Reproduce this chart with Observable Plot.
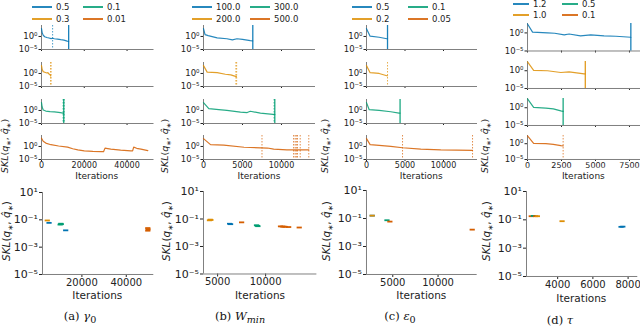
<!DOCTYPE html>
<html><head><meta charset="utf-8">
<script src="https://cdn.jsdelivr.net/npm/d3@7"></script>
<script src="https://cdn.jsdelivr.net/npm/@observablehq/plot@0.6"></script>
<style>
html,body{margin:0;padding:0;background:#fff;}
#fig{position:relative;width:640px;height:333px;overflow:hidden;font-family:"DejaVu Sans",sans-serif;color:#222;}
#fig svg{position:absolute;overflow:visible;}
#fig svg.bot [aria-label^="y-axis"] text{font-size:11px;}
#fig svg.top [aria-label^="y-axis"] text{font-size:8.5px;}
.lbl{position:absolute;white-space:nowrap;line-height:1;}
</style></head><body><div id="fig"></div>
<script>
// ---------------- DATA ----------------
// (a) gamma_0
const gammaLabels = ["0.5","0.3","0.1","0.01"];
const gamma05 = [[0,1000],[300,30],[800,3],[1500,0.8],[2500,0.4],[3500,0.25],[4500,0.15],[5200,0.2],[6000,0.13],[7500,0.1],[9000,0.06],[10500,0.04],[12000,0.016],[12700,0.012]];
const gamma03 = [[0,1000],[300,40],[800,5],[1500,3],[2500,1.5],[3000,2],[3500,0.6],[4000,0.3],[4300,0.1]];
const gamma01 = [[0,1000],[300,20],[800,1.5],[2000,0.6],[4000,0.35],[6000,0.3],[8000,0.2],[9500,0.12],[10400,0.08]];
const gamma001 = [[0,1500],[800,100],[2000,20],[4400,4.7],[8000,1.5],[12200,0.57],[14600,0.13],[17000,0.05],[20000,0.02],[24000,0.012],[27800,0.01],[29000,0.01],[29700,0.23],[31000,0.15],[32400,0.1],[37000,0.04],[41800,0.02],[42600,0.02],[43100,0.57],[44500,0.2],[46500,0.1],[49700,0.025]];
const gammaEnds = [[12700],[],[10400],[]];
const gammaRuns = [[5200],[4300,4450],[10100,10600],[]];
const gammaFinal = [[4400,0.09,1],[5200,0.06,0],[10200,0.045,2],[10500,0.052,2],[10700,0.048,2],[12700,0.017,0],[49700,0.016,3],[49800,0.02,3],[49700,0.025,3]];
const gammaTicks = [0,20000,40000];
const gammaFinalTicks = [20000,40000];

// (b) W_min
const wminLabels = ["100.0","200.0","300.0","500.0"];
const wmin100 = [[0,1000],[200,5],[600,2],[1750,0.3],[3000,0.13],[3700,0.05],[4300,0.13],[5000,0.08],[6000,0.025],[6300,0.02]];
const wmin200 = [[0,1000],[470,3.2],[1750,2],[2800,0.5],[3500,0.3],[4100,0.08],[4230,0.08]];
const wmin300 = [[0,1000],[680,5],[1960,2],[3000,1],[4740,0.25],[5600,0.16],[6000,0.5],[7300,0.1],[8900,0.032],[9140,0.03]];
const wmin500 = [[0,1000],[900,5],[2600,3.2],[5200,0.5],[8200,0.25],[9000,0.1],[10700,0.05],[12400,0.05],[13500,0.05]];
const wminEnds = [[6320],[],[9140],[]];
const wminRuns = [[],[4150,4250],[9050],[7500,11550,11750,11900,12050,12400,13500]];
const wminFinal = [[4150,0.08,1],[4230,0.09,1],[4300,0.085,1],[6250,0.045,0],[6350,0.042,0],[7500,0.057,3],[9050,0.035,2],[9140,0.032,2],[9200,0.03,2],[11550,0.029,3],[11750,0.028,3],[11900,0.028,3],[12050,0.027,3],[12400,0.026,3],[13500,0.024,3]];
const wminTicks = [0,5000,10000];
const wminFinalTicks = [5000,10000];

// (c) epsilon_0
const epsLabels = ["0.5","0.2","0.1","0.05"];
const eps05 = [[0,1000],[470,1.26],[1640,0.5],[2640,0.13],[2730,0.13]];
const eps02 = [[0,1000],[470,2],[1640,1],[2640,0.13],[2730,0.13]];
const eps01 = [[0,1000],[350,2],[1640,1],[3150,0.32],[4230,0.1],[4360,0.1]];
const eps005 = [[0,1000],[470,5],[1640,2.5],[3150,1],[4680,0.32],[7050,0.1],[9650,0.05],[13770,0.032]];
const epsEnds = [[2730],[],[4360],[]];
const epsRuns = [[],[2730],[],[4680,13770]];
const epsFinal = [[2730,0.16,0],[2730,0.16,1],[4360,0.075,2],[4680,0.06,3],[13770,0.016,3]];
const epsTicks = [0,5000,10000];
const epsFinalTicks = [5000,10000];

// (d) tau
const tauLabels = ["1.2","1.0","0.5","0.1"];
const tau12 = [[0,300],[370,1.6],[1470,1],[2000,0.8],[2700,0.3],[3060,0.5],[3900,0.16],[4650,0.3],[5630,0.16],[6500,0.12],[7600,0.063]];
const tau10 = [[0,300],[450,1.2],[1470,1],[2450,0.32],[3060,0.5],[4160,0.13],[4250,0.13]];
const tau05 = [[0,300],[450,1.2],[1350,0.8],[1900,0.5],[2450,0.13],[2620,0.1]];
const tau01 = [[0,300],[450,1.3],[1350,1],[1900,0.6],[2450,0.25],[2620,0.2]];
const tauEnds = [[7600],[4250],[2620],[]];
const tauRuns = [[],[],[],[2620]];
const tauFinal = [[2500,0.18,3],[2620,0.19,2],[2750,0.18,3],[2850,0.18,1],[4250,0.08,1],[7600,0.032,0],[7700,0.033,0]];
const tauTicks = [0,2500,5000,7500];
const tauFinalTicks = [4000,6000,8000];

const yTopTicks = [1e-5, 1];
const yBottomTicks = [1e-5, 1e-3, 1e-1, 10];

// ---------------- STYLE / LAYOUT ----------------
const COLORS = ["#0173b2","#de8f05","#029e73","#d55e00"];
const SPINE = "#808080";
const ROWS = [[25,49],[62,86],[98.5,122.5],[135,159]];
const panels = [
  {series:[gamma05,gamma03,gamma01,gamma001], labels:gammaLabels, ends:gammaEnds, runs:gammaRuns, final:gammaFinal, ticks:gammaTicks, fticks:gammaFinalTicks,
   caption:'(a) <i>γ</i><sub>0</sub>', capY:318, itY:294.5, ox:0, xr:[40.5,153], xd:[0,52600], rows:ROWS, yTop:16000,
   bxr:[41.7,153], bxd:[2250,52400], byr:[191.5,273.5], leg:{x:[32,83], y:[7,19], len:20}},
  {series:[wmin100,wmin200,wmin300,wmin500], labels:wminLabels, ends:wminEnds, runs:wminRuns, final:wminFinal, ticks:wminTicks, fticks:wminFinalTicks,
   caption:'(b) <i>W</i><sub><i>min</i></sub>', capY:318, itY:294.5, ox:160, xr:[203,315], xd:[0,14360], rows:ROWS, yTop:16000,
   bxr:[203.3,316.7], bxd:[3530,15340], byr:[191,273.5], leg:{x:[192,250], y:[7,19], len:20}},
  {series:[eps05,eps02,eps01,eps005], labels:epsLabels, ends:epsEnds, runs:epsRuns, final:epsFinal, ticks:epsTicks, fticks:epsFinalTicks,
   caption:'(c) <i>ε</i><sub>0</sub>', capY:318, itY:294.5, ox:320, xr:[365.7,476.7], xd:[0,14415], rows:ROWS, yTop:16000,
   bxr:[366,476.7], bxd:[2100,14320], byr:[189.5,273.5], leg:{x:[352,408], y:[7,19], len:20}},
  {series:[tau12,tau10,tau05,tau01], labels:tauLabels, ends:tauEnds, runs:tauRuns, final:tauFinal, ticks:tauTicks, fticks:tauFinalTicks,
   caption:'(d) <i>τ</i>', capY:321, itY:298, ox:480, xr:[526.7,640], xd:[0,8330], rows:[[23,50.5],[61,88],[98,125],[135,159]], yTop:400,
   bxr:[525.7,637], bxd:[2230,8550], byr:[191,276], leg:{x:[513,562], y:[4,15], len:16}}
];

const SUP = {"-":"⁻","0":"⁰","1":"¹","2":"²","3":"³","4":"⁴","5":"⁵"};
const fmtPow = d => "10" + String(Math.round(Math.log10(d))).split("").map(c => SUP[c]).join("");
const dash = {draw(ctx){ ctx.moveTo(-2.6,-0.9); ctx.lineTo(2.6,-0.9); ctx.lineTo(2.6,0.9); ctx.lineTo(-2.6,0.9); ctx.closePath(); }};

const fig = document.getElementById("fig");
function place(el, left, top, cls){ el.style.left = left + "px"; el.style.top = top + "px"; el.classList.add(cls); fig.appendChild(el); }
function label(html, cx, cy, size, opts = {}){
  const d = document.createElement("div");
  d.className = "lbl";
  d.innerHTML = html;
  d.style.fontSize = size + "px";
  if (opts.font) d.style.fontFamily = opts.font;
  if (opts.color) d.style.color = opts.color;
  d.style.left = cx + "px"; d.style.top = cy + "px";
  d.style.transform = `translate(-50%,-50%)` + (opts.rot ? ` rotate(${opts.rot}deg)` : "");
  fig.appendChild(d);
}

panels.forEach(p => {
  // small training curves
  p.series.forEach((s, i) => {
    const [t, b] = p.rows[i];
    const last = i === 3;
    const mL = 32, mR = 2, mT = 1, mB = last ? 14 : 5;
    const svg = Plot.plot({
      width: p.xr[1] - p.xr[0] + mL + mR, height: b - t + mT + mB,
      marginLeft: mL, marginRight: mR, marginTop: mT, marginBottom: mB,
      style: {fontFamily: "DejaVu Sans", fontSize: "8px", color: "#222", background: "none", overflow: "visible"},
      x: {domain: p.xd, ticks: p.ticks, tickSize: 2, tickPadding: 0.5, label: null, tickFormat: last ? (d => String(d)) : (() => "")},
      y: {type: "log", domain: [1e-5, p.yTop], ticks: yTopTicks, tickSize: 2.5, tickPadding: 1.5, label: null, tickFormat: fmtPow},
      marks: [
        Plot.ruleY([1e-5], {stroke: SPINE, strokeWidth: 1}),
        Plot.ruleX([p.xd[0]], {stroke: SPINE, strokeWidth: 1}),
        Plot.ruleX(p.runs[i], {x: d => d, stroke: COLORS[i], strokeWidth: 1, strokeDasharray: "1.5,1.5", strokeOpacity: 0.7}),
        Plot.line(s, {x: d => d[0], y: d => d[1], stroke: COLORS[i], strokeWidth: 1.2, strokeOpacity: 0.85}),
        Plot.ruleX(p.ends[i], {x: d => d, stroke: COLORS[i], strokeWidth: 1.3, strokeOpacity: 0.9})
      ]
    });
    place(svg, p.xr[0] - mL, t - mT, "top");
  });
  // final SKL scatter
  {
    const mL = 36, mR = 3, mT = 2, mB = 16;
    const svg = Plot.plot({
      width: p.bxr[1] - p.bxr[0] + mL + mR, height: p.byr[1] - p.byr[0] + mT + mB,
      marginLeft: mL, marginRight: mR, marginTop: mT, marginBottom: mB,
      style: {fontFamily: "DejaVu Sans", fontSize: "10px", color: "#222", background: "none", overflow: "visible"},
      x: {domain: p.bxd, ticks: p.fticks, tickSize: 3, tickPadding: 1, label: null, tickFormat: d => String(d)},
      y: {type: "log", domain: [1e-5, 10], ticks: yBottomTicks, tickSize: 3, tickPadding: 1.5, label: null, tickFormat: fmtPow},
      color: {type: "identity"},
      marks: [
        Plot.ruleY([1e-5], {stroke: SPINE, strokeWidth: 1}),
        Plot.ruleX([p.bxd[0]], {stroke: SPINE, strokeWidth: 1}),
        Plot.dot(p.final, {x: d => d[0], y: d => d[1], fill: d => COLORS[d[2]], symbol: dash, stroke: "none"})
      ]
    });
    place(svg, p.bxr[0] - mL, p.byr[0] - mT, "bot");
  }
  // legend (2 columns, column-major)
  p.labels.forEach((lab, k) => {
    const col = Math.floor(k / 2), row = k % 2;
    const x0 = p.leg.x[col], y0 = p.leg.y[row];
    const ln = document.createElement("div");
    ln.style.position = "absolute"; ln.style.left = x0 + "px"; ln.style.top = (y0 - 0.75) + "px";
    ln.style.width = p.leg.len + "px"; ln.style.height = "1.5px"; ln.style.background = COLORS[k]; ln.style.opacity = 0.85;
    fig.appendChild(ln);
    const d = document.createElement("div");
    d.className = "lbl"; d.textContent = lab; d.style.fontSize = "8.5px";
    d.style.left = (x0 + p.leg.len + 4) + "px"; d.style.top = y0 + "px"; d.style.transform = "translate(0,-50%)";
    fig.appendChild(d);
  });
  const cxTop = (p.xr[0] + p.xr[1]) / 2, cxBot = (p.bxr[0] + p.bxr[1]) / 2;
  label("Iterations", cxTop, 175.5, 9);
  label("Iterations", cxBot, p.itY, 10.5);
  const skl = '<i>SKL</i>(<i>q</i><sub style="font-size:70%">∗</sub>, <i>q̂</i><sub style="font-size:70%">∗</sub>)';
  label(skl, p.ox + 6, 146, 9.5, {rot: -90});
  label(skl, p.ox + 8, 231, 10.5, {rot: -90});
  label(p.caption, p.ox + 80, p.capY, 11.5, {font: '"DejaVu Serif", serif', color: "#111"});
});
</script></body></html>
